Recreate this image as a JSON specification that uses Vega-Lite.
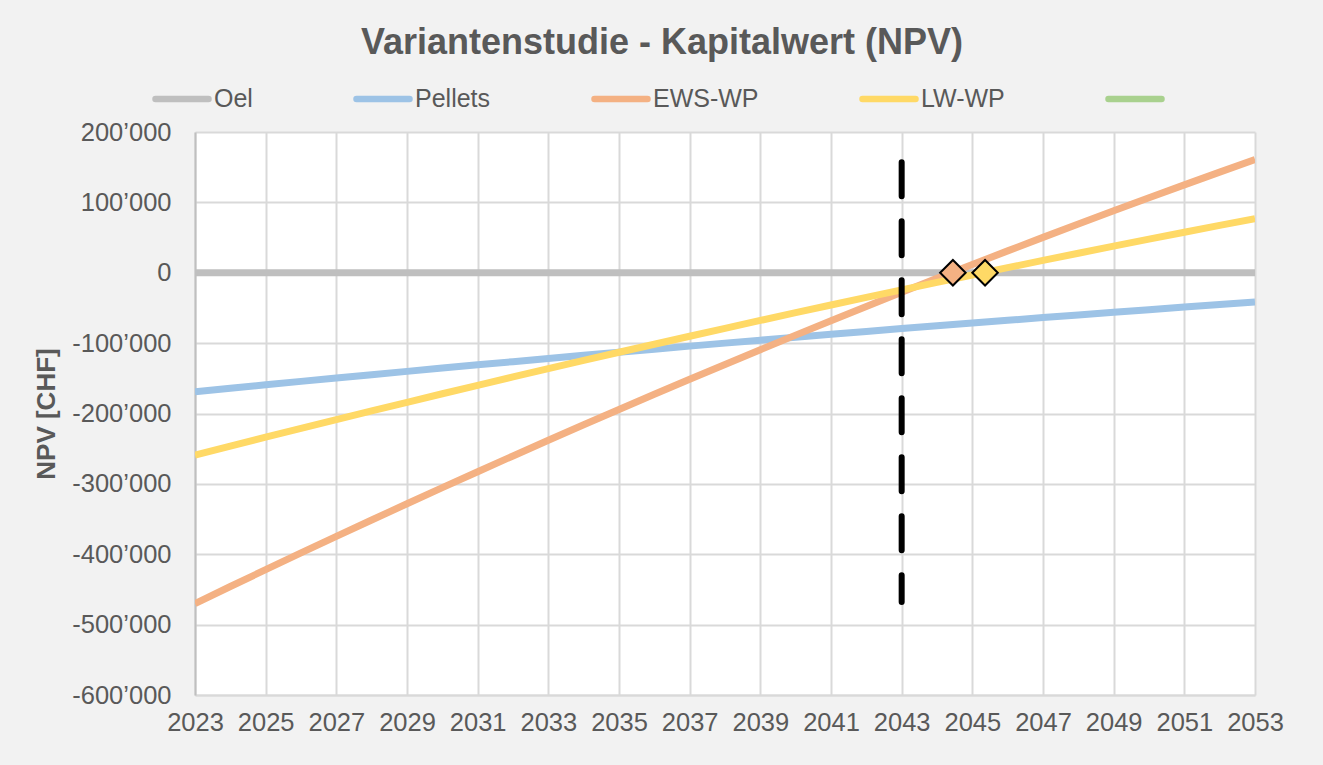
{
  "$schema": "https://vega.github.io/schema/vega-lite/v6.json",
  "width": 1060,
  "height": 563,
  "autosize": {"type": "none"},
  "padding": {"left": 195, "top": 132, "right": 68, "bottom": 70},
  "background": "#f2f2f2",
  "config": {
    "view": {"fill": "white", "stroke": null},
    "font": "Liberation Sans",
    "locale": {"number": {"decimal": ".", "thousands": "’", "grouping": [3], "currency": ["", ""], "minus": "-"}},
    "axis": {
      "grid": true,
      "gridColor": "#d9d9d9",
      "gridWidth": 2,
      "ticks": false,
      "domainColor": "#d9d9d9",
      "domainWidth": 2,
      "labelFont": "Liberation Sans",
      "labelFontSize": 25.5,
      "labelColor": "#595959",
      "titleFont": "Liberation Sans",
      "titleColor": "#595959"
    }
  },
  "title": {
    "text": "Variantenstudie - Kapitalwert (NPV)",
    "font": "Liberation Sans",
    "fontSize": 36,
    "fontWeight": "bold",
    "color": "#595959",
    "anchor": "middle",
    "frame": "group",
    "dx": -63,
    "offset": 7
  },
  "datasets": {
    "lines": [
      {"year": 2023, "series": "Oel", "npv": 0}, {"year": 2024, "series": "Oel", "npv": 0}, {"year": 2025, "series": "Oel", "npv": 0}, {"year": 2026, "series": "Oel", "npv": 0}, {"year": 2027, "series": "Oel", "npv": 0}, {"year": 2028, "series": "Oel", "npv": 0}, {"year": 2029, "series": "Oel", "npv": 0}, {"year": 2030, "series": "Oel", "npv": 0}, {"year": 2031, "series": "Oel", "npv": 0}, {"year": 2032, "series": "Oel", "npv": 0}, {"year": 2033, "series": "Oel", "npv": 0}, {"year": 2034, "series": "Oel", "npv": 0}, {"year": 2035, "series": "Oel", "npv": 0}, {"year": 2036, "series": "Oel", "npv": 0}, {"year": 2037, "series": "Oel", "npv": 0}, {"year": 2038, "series": "Oel", "npv": 0}, {"year": 2039, "series": "Oel", "npv": 0}, {"year": 2040, "series": "Oel", "npv": 0}, {"year": 2041, "series": "Oel", "npv": 0}, {"year": 2042, "series": "Oel", "npv": 0}, {"year": 2043, "series": "Oel", "npv": 0}, {"year": 2044, "series": "Oel", "npv": 0}, {"year": 2045, "series": "Oel", "npv": 0}, {"year": 2046, "series": "Oel", "npv": 0}, {"year": 2047, "series": "Oel", "npv": 0}, {"year": 2048, "series": "Oel", "npv": 0}, {"year": 2049, "series": "Oel", "npv": 0}, {"year": 2050, "series": "Oel", "npv": 0}, {"year": 2051, "series": "Oel", "npv": 0}, {"year": 2052, "series": "Oel", "npv": 0}, {"year": 2053, "series": "Oel", "npv": 0},
      {"year": 2023, "series": "Pellets", "npv": -169000}, {"year": 2024, "series": "Pellets", "npv": -164070}, {"year": 2025, "series": "Pellets", "npv": -159190}, {"year": 2026, "series": "Pellets", "npv": -154350}, {"year": 2027, "series": "Pellets", "npv": -149560}, {"year": 2028, "series": "Pellets", "npv": -144820}, {"year": 2029, "series": "Pellets", "npv": -140130}, {"year": 2030, "series": "Pellets", "npv": -135480}, {"year": 2031, "series": "Pellets", "npv": -130880}, {"year": 2032, "series": "Pellets", "npv": -126330}, {"year": 2033, "series": "Pellets", "npv": -121820}, {"year": 2034, "series": "Pellets", "npv": -117360}, {"year": 2035, "series": "Pellets", "npv": -112950}, {"year": 2036, "series": "Pellets", "npv": -108590}, {"year": 2037, "series": "Pellets", "npv": -104270}, {"year": 2038, "series": "Pellets", "npv": -100000}, {"year": 2039, "series": "Pellets", "npv": -95780}, {"year": 2040, "series": "Pellets", "npv": -91600}, {"year": 2041, "series": "Pellets", "npv": -87470}, {"year": 2042, "series": "Pellets", "npv": -83390}, {"year": 2043, "series": "Pellets", "npv": -79360}, {"year": 2044, "series": "Pellets", "npv": -75370}, {"year": 2045, "series": "Pellets", "npv": -71430}, {"year": 2046, "series": "Pellets", "npv": -67540}, {"year": 2047, "series": "Pellets", "npv": -63700}, {"year": 2048, "series": "Pellets", "npv": -59900}, {"year": 2049, "series": "Pellets", "npv": -56150}, {"year": 2050, "series": "Pellets", "npv": -52450}, {"year": 2051, "series": "Pellets", "npv": -48790}, {"year": 2052, "series": "Pellets", "npv": -45180}, {"year": 2053, "series": "Pellets", "npv": -41620},
      {"year": 2023, "series": "EWS-WP", "npv": -470000}, {"year": 2024, "series": "EWS-WP", "npv": -445840}, {"year": 2025, "series": "EWS-WP", "npv": -421890}, {"year": 2026, "series": "EWS-WP", "npv": -398160}, {"year": 2027, "series": "EWS-WP", "npv": -374650}, {"year": 2028, "series": "EWS-WP", "npv": -351350}, {"year": 2029, "series": "EWS-WP", "npv": -328270}, {"year": 2030, "series": "EWS-WP", "npv": -305400}, {"year": 2031, "series": "EWS-WP", "npv": -282750}, {"year": 2032, "series": "EWS-WP", "npv": -260320}, {"year": 2033, "series": "EWS-WP", "npv": -238100}, {"year": 2034, "series": "EWS-WP", "npv": -216100}, {"year": 2035, "series": "EWS-WP", "npv": -194310}, {"year": 2036, "series": "EWS-WP", "npv": -172740}, {"year": 2037, "series": "EWS-WP", "npv": -151390}, {"year": 2038, "series": "EWS-WP", "npv": -130250}, {"year": 2039, "series": "EWS-WP", "npv": -109330}, {"year": 2040, "series": "EWS-WP", "npv": -88620}, {"year": 2041, "series": "EWS-WP", "npv": -68130}, {"year": 2042, "series": "EWS-WP", "npv": -47860}, {"year": 2043, "series": "EWS-WP", "npv": -27800}, {"year": 2044, "series": "EWS-WP", "npv": -7960}, {"year": 2045, "series": "EWS-WP", "npv": 11670}, {"year": 2046, "series": "EWS-WP", "npv": 31080}, {"year": 2047, "series": "EWS-WP", "npv": 50270}, {"year": 2048, "series": "EWS-WP", "npv": 69250}, {"year": 2049, "series": "EWS-WP", "npv": 88010}, {"year": 2050, "series": "EWS-WP", "npv": 106560}, {"year": 2051, "series": "EWS-WP", "npv": 124890}, {"year": 2052, "series": "EWS-WP", "npv": 143000}, {"year": 2053, "series": "EWS-WP", "npv": 160900},
      {"year": 2023, "series": "LW-WP", "npv": -259000}, {"year": 2024, "series": "LW-WP", "npv": -246240}, {"year": 2025, "series": "LW-WP", "npv": -233600}, {"year": 2026, "series": "LW-WP", "npv": -221050}, {"year": 2027, "series": "LW-WP", "npv": -208620}, {"year": 2028, "series": "LW-WP", "npv": -196290}, {"year": 2029, "series": "LW-WP", "npv": -184070}, {"year": 2030, "series": "LW-WP", "npv": -171960}, {"year": 2031, "series": "LW-WP", "npv": -159960}, {"year": 2032, "series": "LW-WP", "npv": -148060}, {"year": 2033, "series": "LW-WP", "npv": -136270}, {"year": 2034, "series": "LW-WP", "npv": -124590}, {"year": 2035, "series": "LW-WP", "npv": -113010}, {"year": 2036, "series": "LW-WP", "npv": -101550}, {"year": 2037, "series": "LW-WP", "npv": -90190}, {"year": 2038, "series": "LW-WP", "npv": -78930}, {"year": 2039, "series": "LW-WP", "npv": -67790}, {"year": 2040, "series": "LW-WP", "npv": -56750}, {"year": 2041, "series": "LW-WP", "npv": -45820}, {"year": 2042, "series": "LW-WP", "npv": -35000}, {"year": 2043, "series": "LW-WP", "npv": -24280}, {"year": 2044, "series": "LW-WP", "npv": -13670}, {"year": 2045, "series": "LW-WP", "npv": -3170}, {"year": 2046, "series": "LW-WP", "npv": 7220}, {"year": 2047, "series": "LW-WP", "npv": 17510}, {"year": 2048, "series": "LW-WP", "npv": 27690}, {"year": 2049, "series": "LW-WP", "npv": 37760}, {"year": 2050, "series": "LW-WP", "npv": 47720}, {"year": 2051, "series": "LW-WP", "npv": 57580}, {"year": 2052, "series": "LW-WP", "npv": 67330}, {"year": 2053, "series": "LW-WP", "npv": 76970}
    ],
    "vline": [{"year": 2043, "top": 157000, "bottom": -468000}],
    "markers": [
      {"year": 2044.45, "series": "EWS-WP", "npv": 0},
      {"year": 2045.36, "series": "LW-WP", "npv": 0}
    ]
  },
  "layer": [
    {
      "data": {"name": "lines"},
      "mark": {"type": "line", "strokeWidth": 7, "clip": true},
      "encoding": {
        "x": {
          "field": "year", "type": "quantitative",
          "scale": {"domain": [2023, 2053], "nice": false, "zero": false},
          "axis": {"title": null, "values": [2023, 2025, 2027, 2029, 2031, 2033, 2035, 2037, 2039, 2041, 2043, 2045, 2047, 2049, 2051, 2053], "format": "d", "labelPadding": 15, "labelFlush": false}
        },
        "y": {
          "field": "npv", "type": "quantitative",
          "scale": {"domain": [-600000, 200000], "nice": false},
          "axis": {"title": "NPV [CHF]", "titleFontSize": 26, "titleFontWeight": "bold", "titlePadding": 12, "values": [-600000, -500000, -400000, -300000, -200000, -100000, 0, 100000, 200000], "format": ",.0f", "labelPadding": 24, "domainColor": "#bfbfbf"}
        },
        "color": {
          "field": "series", "type": "nominal",
          "scale": {"domain": ["Oel", "Pellets", "EWS-WP", "LW-WP", " "], "range": ["#bfbfbf", "#9dc3e6", "#f4b183", "#ffd966", "#a9d18e"]},
          "legend": {
            "title": null,
            "orient": "none",
            "legendX": -43,
            "legendY": -63,
            "direction": "horizontal",
            "symbolType": "stroke",
            "symbolSize": 2809,
            "symbolStrokeWidth": 6.5,
            "labelFontSize": 25,
            "labelColor": "#595959",
            "labelFont": "Liberation Sans",
            "labelOffset": 2,
            "columnPadding": 90,
            "encode": {"symbols": {"update": {"strokeCap": {"value": "round"}}}}
          }
        },
        "order": {"field": "year"}
      }
    },
    {
      "data": {"name": "vline"},
      "mark": {"type": "rule", "color": "black", "strokeWidth": 6, "strokeDash": [34, 25], "strokeCap": "round"},
      "encoding": {
        "x": {"field": "year", "type": "quantitative"},
        "y": {"field": "top", "type": "quantitative"},
        "y2": {"field": "bottom"}
      }
    },
    {
      "data": {"name": "markers"},
      "mark": {"type": "point", "shape": "diamond", "size": 650, "filled": true, "stroke": "black", "strokeWidth": 2, "opacity": 1},
      "encoding": {
        "x": {"field": "year", "type": "quantitative"},
        "y": {"field": "npv", "type": "quantitative"},
        "fill": {
          "field": "series", "type": "nominal",
          "scale": {"domain": ["EWS-WP", "LW-WP"], "range": ["#f4b183", "#ffd966"]},
          "legend": null
        }
      }
    }
  ]
}
